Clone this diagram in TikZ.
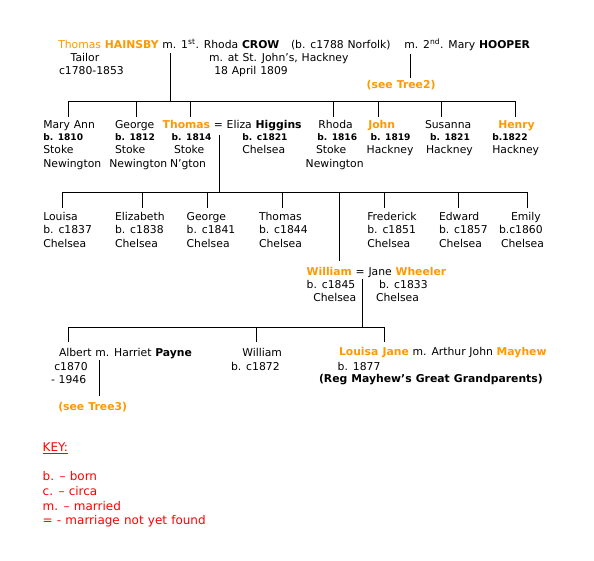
\documentclass[tikz,border=0pt]{standalone}
\usepackage{fontspec}
\setmainfont{DejaVu Sans}[WordSpace=1.1]
\definecolor{org}{HTML}{FF9900}
\definecolor{keyred}{HTML}{FF0000}
\newcommand\txtat[4]{\node[txt] (#1) at (#2,#3) {#4};}
\newcommand\dtat[4]{\node[dt] (#1) at (#2,#3) {#4};}
\newcommand\ob[1]{\textbf{\textcolor{org}{#1}}}
\tikzset{
  txt/.style={anchor=base west, inner sep=0pt, outer sep=0pt,
    font=\fontsize{10.8}{13}\selectfont, text=black},
  dt/.style={txt, font=\fontsize{9.1}{11}\selectfont\bfseries},
  keytxt/.style={txt, font=\fontsize{12}{14}\selectfont, text=keyred},
  ln/.style={line width=0.9pt, black}
}
\begin{document}
\begin{tikzpicture}[x=1pt,y=-1pt]
\useasboundingbox (0,0) rectangle (594,561);
\fill[white] (0,0) rectangle (594,561);
% ---- generation 1
\txtat{g1a}{58.3}{48.5}{\textcolor{org}{Thomas} \ob{HAINSBY} m. 1\textsuperscript{st}. Rhoda \textbf{CROW}}
\txtat{g1b}{291}{48.5}{(b. c1788 Norfolk)}
\txtat{g1c}{404.3}{48.5}{m. 2\textsuperscript{nd}. Mary \textbf{HOOPER}}
\txtat{g1d}{70.7}{61.7}{Tailor}
\txtat{g1e}{59}{75}{c1780-1853}
\txtat{g1f}{209}{61.7}{m. at St. John’s, Hackney}
\txtat{g1g}{214.3}{75}{18 April 1809}
\txtat{tree2}{366.7}{89}{\ob{(see Tree2)}}
% ---- generation 2
\txtat{c1}{43.3}{129}{Mary Ann}
\dtat{c1b}{43.3}{141}{b. 1810}
\txtat{c1c}{43.3}{154}{Stoke}
\txtat{c1d}{43.3}{167.3}{Newington}
\txtat{c2}{115}{129}{George}
\dtat{c2b}{115}{141}{b. 1812}
\txtat{c2c}{115}{154}{Stoke}
\txtat{c2d}{109.3}{167.3}{Newington}
\txtat{c3}{162.7}{129}{\ob{Thomas} = Eliza \textbf{Higgins}}
\dtat{c3b}{171.7}{141}{b. 1814}
\txtat{c3c}{174}{154}{Stoke}
\txtat{c3d}{170}{167.3}{N’gton}
\dtat{c3e}{242.3}{141}{b. c1821}
\txtat{c3f}{242.3}{154}{Chelsea}
\txtat{c4}{318.3}{129}{Rhoda}
\dtat{c4b}{317.3}{141}{b. 1816}
\txtat{c4c}{316}{154}{Stoke}
\txtat{c4d}{305.7}{167.3}{Newington}
\txtat{c5}{368.3}{129}{\ob{John}}
\dtat{c5b}{370.7}{141}{b. 1819}
\txtat{c5c}{366.7}{154}{Hackney}
\txtat{c6}{425}{129}{Susanna}
\dtat{c6b}{430}{141}{b. 1821}
\txtat{c6c}{426}{154}{Hackney}
\txtat{c7}{498.3}{129}{\ob{Henry}}
\dtat{c7b}{492.3}{141}{b.1822}
\txtat{c7c}{492.3}{154}{Hackney}
% ---- generation 3
\txtat{d1}{43.3}{220.7}{Louisa}
\txtat{d1b}{43.3}{234}{b. c1837}
\txtat{d1c}{43.3}{247.5}{Chelsea}
\txtat{d2}{115}{220.7}{Elizabeth}
\txtat{d2b}{115}{234}{b. c1838}
\txtat{d2c}{115}{247.5}{Chelsea}
\txtat{d3}{186.7}{220.7}{George}
\txtat{d3b}{186.7}{234}{b. c1841}
\txtat{d3c}{186.7}{247.5}{Chelsea}
\txtat{d4}{259}{220.7}{Thomas}
\txtat{d4b}{259}{234}{b. c1844}
\txtat{d4c}{259}{247.5}{Chelsea}
\txtat{d6}{367.3}{220.7}{Frederick}
\txtat{d6b}{367.3}{234}{b. c1851}
\txtat{d6c}{367.3}{247.5}{Chelsea}
\txtat{d7}{439}{220.7}{Edward}
\txtat{d7b}{439}{234}{b. c1857}
\txtat{d7c}{439}{247.5}{Chelsea}
\txtat{d8}{511}{220.7}{Emily}
\txtat{d8b}{499}{234}{b.c1860}
\txtat{d8c}{501}{247.5}{Chelsea}
\txtat{d5}{306.7}{275.7}{\ob{William} = Jane \ob{Wheeler}}
\txtat{d5b}{306.7}{288.3}{b. c1845}
\txtat{d5c}{379}{288.3}{b. c1833}
\txtat{d5d}{313.3}{301.7}{Chelsea}
\txtat{d5e}{376}{301.7}{Chelsea}
% ---- generation 4
\txtat{e1}{59}{356}{Albert m. Harriet \textbf{Payne}}
\txtat{e1b}{54.3}{370}{c1870}
\txtat{e1c}{51}{383.3}{- 1946}
\txtat{tree3}{58.3}{410}{\ob{(see Tree3)}}
\txtat{e2}{242.3}{356}{William}
\txtat{e2b}{231}{370}{b. c1872}
\txtat{e3}{339}{355.7}{\ob{Louisa Jane} m. Arthur John \ob{Mayhew}}
\txtat{e3b}{337.7}{370}{b. 1877}
\txtat{e3c}{319}{382.7}{\textbf{(Reg Mayhew’s Great Grandparents)}}
% ---- key
\node[keytxt] (k0) at (42.7,451.7) {\underline{KEY:}};
\node[keytxt] (k1) at (42.7,480.7) {b. – born};
\node[keytxt] (k2) at (42.7,495) {c. – circa};
\node[keytxt] (k3) at (42.7,510) {m. – married};
\node[keytxt] (k4) at (42.7,524.3) {= - marriage not yet found};
% ---- connector coordinates
\coordinate (m1t) at (170.7,53);
\coordinate (m1b) at (170.7,101.7);
\coordinate (b1l) at (68.3,101.7);
\coordinate (b1r) at (515.7,101.7);
\coordinate (m2t) at (410.3,54);
\coordinate (m2b) at (410.3,77.7);
\coordinate (m3t) at (219.3,135);
\coordinate (m3b) at (219.3,192.3);
\coordinate (b2l) at (62.3,192.3);
\coordinate (b2r) at (527.3,192.3);
\coordinate (wt) at (339.3,192.3);
\coordinate (wb) at (339.3,260.7);
\coordinate (m4t) at (362.2,279.3);
\coordinate (m4b) at (362.2,327);
\coordinate (b3l) at (68.3,327);
\coordinate (b3r) at (384.3,327);
\coordinate (m5t) at (99.3,360);
\coordinate (m5b) at (99.3,395.7);
% ---- connectors
\draw[ln] (m1t) -- (m1b);
\draw[ln] (b1l) -- (b1r);
\draw[ln] (m2t) -- (m2b);
\foreach \x in {68.3,136.7,190.7,333.3,378.3,441.7,515.7}
  \draw[ln] (\x,101.7) -- (\x,116.7);
\draw[ln] (m3t) -- (m3b);
\draw[ln] (b2l) -- (b2r);
\foreach \x in {62.3,142.3,207.3,282.3,384.3,458.3,527.3}
  \draw[ln] (\x,192.3) -- (\x,207.7);
\draw[ln] (wt) -- (wb);
\draw[ln] (m4t) -- (m4b);
\draw[ln] (b3l) -- (b3r);
\foreach \x in {68.3,256.7,384.3}
  \draw[ln] (\x,327) -- (\x,342.3);
\draw[ln] (m5t) -- (m5b);
\end{tikzpicture}
\end{document}
